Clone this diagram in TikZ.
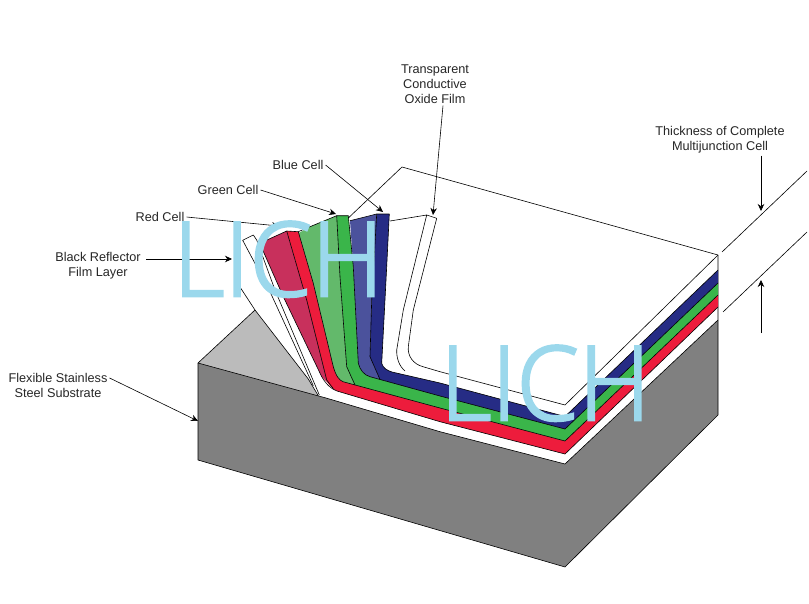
\documentclass[tikz,border=0pt]{standalone}
\usepackage{fontspec}
\setmainfont{Liberation Sans}
\newfontfamily\markfont[FakeBold=2.5,FakeStretch=0.97]{Open Sans Light}
\usepackage{xcolor}
\usetikzlibrary{arrows.meta, positioning}
\usetikzlibrary{calc}

\definecolor{blockdark}{HTML}{808080}
\definecolor{blocklight}{HTML}{BBBBBB}
\definecolor{redface}{HTML}{C8305C}
\definecolor{redband}{HTML}{ED1C3C}
\definecolor{greenface}{HTML}{63B96B}
\definecolor{greenband}{HTML}{3AB54A}
\definecolor{blueface}{HTML}{4B529C}
\definecolor{blueband}{HTML}{262C85}
\definecolor{markblue}{HTML}{9BD8EC}

\tikzset{
    lbl/.style={font=\fontsize{12.7}{15}\selectfont, text=black!85, align=center, inner sep=2pt},
    pointer/.style={-{Stealth[length=7pt,width=6.5pt]}, line width=0.6pt},
    edge/.style={line width=0.6pt, line join=round},
    wmark/.style={font=\markfont\fontsize{103}{103}\selectfont, text=markblue, inner sep=0pt, anchor=base west}
}

\begin{document}
\begin{tikzpicture}[x=1pt, y=-1pt]
    \useasboundingbox (0,0) rectangle (809,603);

    % block
    \fill[blocklight] (198,363) -- (255,310) -- (308.3,379) -- (318.3,395.7) -- cycle;
    \fill[blockdark] (198,363) -- (326,398) -- (440,431.7) -- (565,464) -- (718,320) -- (718,415) -- (565,567) -- (198,460) -- cycle;
    \draw[edge] (255,310) -- (198,363) -- (326,398) -- (440,431.7) -- (565,464) -- (718,320);
    \draw[edge] (198,363) -- (198,460) -- (565,567) -- (718,415) -- (718,255);

    % reflector film
    \draw[edge] (313.3,385.7) -- (270,291.7) -- (242.7,240.3) -- (253.3,235) -- (256.7,240) -- (275,290) -- (319.3,395);
    \draw[edge] (238,284) -- (255,310) -- (308.3,379) -- (318.3,395.7);

    % red cell
    \fill[redface] (259.7,243.3) -- (286.7,231) -- (306.7,300) -- (326.7,380) -- (335,390) -- (321.7,376.7) -- (283.3,296.7) -- cycle;
    \fill[redband] (286.7,231) -- (298.3,231.7) -- (313.3,283.3) -- (333.3,366.7) .. controls (336,376) and (339,380) .. (343,381.7)
        -- (440,408) -- (565,441) -- (718,295) -- (718,307) -- (565,454) -- (440,421.7) -- (337,391)
        .. controls (331,388) and (328,384) .. (326.7,380) -- (306.7,300) -- cycle;
    \draw[edge] (259.7,243.3) -- (283.3,296.7) -- (321.7,376.7) .. controls (326,384) and (331,389) .. (337,391) -- (440,421.7) -- (565,454) -- (718,307);
    \draw[edge] (259.7,243.3) -- (286.7,231) -- (298.3,231.7);
    \draw[edge] (286.7,231) -- (306.7,300) -- (326.7,380) -- (333.3,388.7);

    % green cell
    \fill[greenface] (299.3,232.7) -- (310,226.7) -- (336.7,215.7) -- (340,276.7) -- (346.7,366.7) -- (355,385) -- (343,381.7)
        .. controls (339,380) and (336,376) .. (333.3,366.7) -- (313.3,283.3) -- (298.3,231.7) -- cycle;
    \fill[greenband] (336.7,215.7) -- (348.3,215.7) -- (353.3,266.7) -- (358.3,363.3) .. controls (360,370) and (364,375) .. (370,376.7)
        -- (440,396) -- (565,429) -- (718,283) -- (718,295) -- (565,441) -- (440,408) -- (355,385) -- (346.7,366.7) -- (340,276.7) -- cycle;
    \draw[edge] (298.3,231.7) -- (313.3,283.3) -- (333.3,366.7) .. controls (336,376) and (339,380) .. (343,381.7) -- (440,408) -- (565,441) -- (718,295);
    \draw[edge] (298.3,231.7) -- (310,226.7) -- (336.7,215.7) -- (348.3,215.7);
    \draw[edge] (336.7,215.7) -- (340,276.7) -- (346.7,366.7) -- (355,385);

    % blue cell
    \fill[blueface] (350,220.7) -- (376.7,214) -- (371.7,300) -- (370,356.7) -- (380,379.5) -- (370,376.7)
        .. controls (364,375) and (360,370) .. (358.3,363.3) -- (353.3,266.7) -- cycle;
    \fill[blueband] (376.7,214) -- (389.3,214) -- (386.7,266.7) -- (381.7,363.3) .. controls (383,368) and (387,370.5) .. (392,372)
        -- (440,383) -- (565,416.5) -- (718,270) -- (718,283) -- (565,429) -- (440,396) -- (380,379.5) -- (370,356.7) -- (371.7,300) -- cycle;
    \draw[edge] (348.3,215.7) -- (353.3,266.7) -- (358.3,363.3) .. controls (360,370) and (364,375) .. (370,376.7) -- (440,396) -- (565,429) -- (718,283);
    \draw[edge] (350,220.7) -- (376.7,214) -- (389.3,214) -- (386.7,266.7) -- (381.7,363.3) .. controls (383,368) and (387,370.5) .. (392,372) -- (440,383) -- (565,416.5) -- (718,270);
    \draw[edge] (376.7,214) -- (371.7,300) -- (370,356.7) -- (380,379.5);

    % oxide film and top surface
    \draw[edge] (390,221) -- (426.7,215) -- (403.3,310) -- (396.7,350) .. controls (396.5,358) and (399,366) .. (405,371);
    \draw[edge] (426.7,215) -- (436.7,218.3) -- (413.3,310) -- (408.3,346.7) .. controls (407.5,356) and (413,364) .. (423,366.7) -- (440,371.7) -- (565,405) -- (718,255);
    \draw[edge] (348.3,218) -- (402,167) -- (718,255);

    % thickness marks
    \coordinate (upperfar) at (807,171);
    \coordinate (uppernear) at (722,252);
    \coordinate (lowerfar) at (807,232);
    \coordinate (lowernear) at (723,312);
    \draw[edge] (uppernear) -- (upperfar);
    \draw[edge] (lowernear) -- (lowerfar);

    % labels
    \node[lbl] (oxide) at (435,84) {Transparent\\Conductive\\Oxide Film};
    \node[lbl] (thick) at (720,140) {Thickness of Complete\\Multijunction Cell};
    \node[lbl] (blue) at (298,165) {Blue Cell};
    \node[lbl] (green) at (228,190) {Green Cell};
    \node[lbl] (red) at (160,217) {Red Cell};
    \node[lbl] (film) at (98,266) {Black Reflector\\Film Layer};
    \node[lbl] (steel) at (58,385) {Flexible Stainless\\Steel Substrate};

    \coordinate (oxidetip) at (433,215);
    \coordinate (bluetip) at (383,212);
    \coordinate (greentip) at (336,214);
    \coordinate (redtip) at (279,226);
    \coordinate (filmtip) at (232,259);
    \coordinate (steeltip) at (198,421);
    \coordinate (thicktip) at (761,211);
    \coordinate (thickstart) at (761,333);
    \coordinate (thicktop) at (761,280);

    \draw[pointer] (oxide.south -| 443,0) -- (oxidetip);
    \draw[pointer] (blue.east) -- (bluetip);
    \draw[pointer] (green.east) -- (greentip);
    \draw[pointer] (red.east) -- (redtip);
    \draw[pointer] (146,259) -- (filmtip);
    \draw[pointer] (steel.east |- 0,378) -- (steeltip);
    \draw[pointer] (thick.south -| thicktip) -- (thicktip);
    \draw[pointer] (thickstart) -- (thicktop);

    % watermark
    \node[wmark] (markone) at (173,296) {LICH};
    \node[wmark] (marktwo) at (440,420) {LICH};
\end{tikzpicture}
\end{document}
